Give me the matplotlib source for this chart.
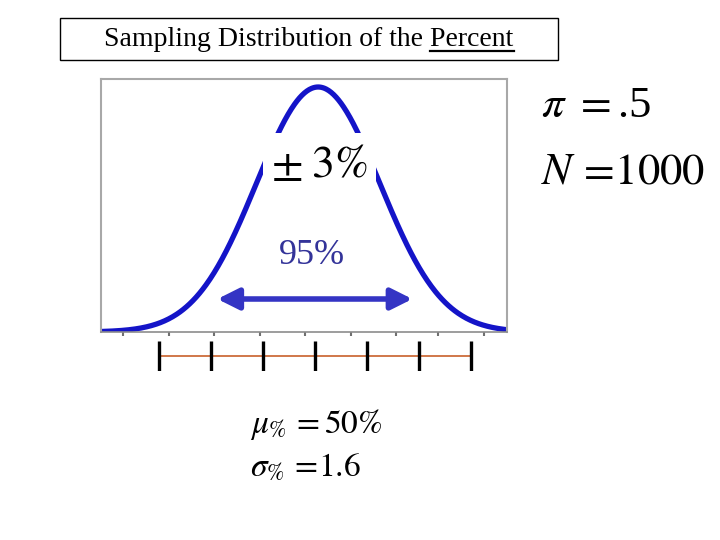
#%% IMPORTS               ~~~~~~~~~~~~~~~~~~~~~~~~~~~~~~~~~~~~~~~~~~~~
import matplotlib
matplotlib.use('Agg')
import matplotlib.pyplot as plt
import numpy as np
from matplotlib.patches import Rectangle
from matplotlib.lines import Line2D

plt.rcParams['mathtext.fontset'] = 'stix'
plt.rcParams['font.family'] = ['Liberation Serif', 'DejaVu Serif']

#%% DATA               ~~~~~~~~~~~~~~~~~~~~~~~~~~~~~~~~~~~~~~~~~~~~
title_text = 'Sampling Distribution of the '
title_word = 'Percent'
pi_value = '.5'
n_value = 1000
mu_pct = 50
sd_pct = 1.6
margin_pct = 3
coverage = '95%'

# curve as drawn on the slide (peak and spread)
curve_mean = 50.1
curve_sd = 1.9
x_range = (43.42, 55.91)

# leftover small ticks under the curve's baseline
axis_ticks = [44.1, 45.5, 46.9, 48.3, 49.7, 51.1, 52.5, 53.8, 55.2]

# ruler below: mean +/- 1, 2, 3 standard deviations
ruler_ticks = [mu_pct + k * sd_pct for k in range(-3, 4)]


#%% HELPERS               ~~~~~~~~~~~~~~~~~~~~~~~~~~~~~~~~~~~~~~~~~~~~
W, H = 720, 540

def fx(x):
    return x / W

def fy(y):
    return 1 - y / H


#%% FIGURE               ~~~~~~~~~~~~~~~~~~~~~~~~~~~~~~~~~~~~~~~~~~~~
fig = plt.figure(figsize=(7.2, 5.4), dpi=100)

# main curve box
ax = fig.add_axes([fx(101), fy(332), (507 - 101) / W, (332 - 79) / H])
x = np.linspace(x_range[0], x_range[1], 500)
y = np.exp(-0.5 * ((x - curve_mean) / curve_sd) ** 2) / (curve_sd * np.sqrt(2 * np.pi))
ax.plot(x, y, color='#1414c8', lw=3.8, solid_capstyle='butt', zorder=2)
ax.set_xlim(*x_range)
ax.set_ylim(0, y.max() * 253 / 245)

for side in ['left', 'top', 'right']:
    ax.spines[side].set_color('#a8a8a8')
    ax.spines[side].set_linewidth(1.5)
ax.spines['bottom'].set_color('#8c8c8c')
ax.spines['bottom'].set_linewidth(1.2)
ax.set_xticks(axis_ticks)
ax.set_xticklabels([])
ax.set_yticks([])
ax.tick_params(axis='x', length=3, width=1.5, color='#707070', direction='out')

trans = ax.get_xaxis_transform()

# white patch behind the margin label (cuts the curve)
ax.add_patch(Rectangle(((263 - 101) / 406, (332 - 182) / 253),
                       (376 - 263) / 406, (182 - 133) / 253,
                       transform=ax.transAxes, facecolor='white',
                       edgecolor='none', zorder=3))
ax.text(mu_pct + 0.15, (332 - 166) / 253, r'$\pm\;%d\%%$' % margin_pct,
        transform=trans, ha='center', va='center', fontsize=33,
        color='black', zorder=4)

# 95% arrow
ax.annotate('', xy=(mu_pct + margin_pct, (332 - 299) / 253),
            xytext=(mu_pct - margin_pct, (332 - 299) / 253),
            xycoords=trans, textcoords=trans,
            arrowprops=dict(arrowstyle='<|-|>,head_length=0.8,head_width=0.4',
                            mutation_scale=16, color='#3434c4', lw=4,
                            shrinkA=0, shrinkB=0))
ax.text(mu_pct - 0.1, (332 - 255) / 253, coverage, transform=trans,
        ha='center', va='center', fontsize=26, color='#333399')

# ruler below the box
rax = fig.add_axes([fx(101), fy(371), (507 - 101) / W, (371 - 341) / H], sharex=ax)
rax.axis('off')
rax.set_ylim(0, 1)
rax.hlines(0.5, ruler_ticks[0], ruler_ticks[-1], color='#c8602a', lw=1.2)
rax.vlines(ruler_ticks, 0, 1, color='black', lw=2.4)
rax.set_xlim(*x_range)

# title box
fig.patches.append(Rectangle((fx(60), fy(60)), (558 - 60) / W, (60 - 18) / H,
                             transform=fig.transFigure, fill=False,
                             edgecolor='black', lw=1))
t = fig.text(fx(309), fy(40), title_text + title_word, ha='center', va='center',
             fontsize=20)

# underline the last word
fig.canvas.draw()
r = fig.canvas.get_renderer()
bb = t.get_window_extent(r)
tmp = fig.text(0, 0, title_word, fontsize=20)
wbb = tmp.get_window_extent(r)
tmp.remove()
uy = bb.y0 + 2
fig.lines.append(Line2D([(bb.x1 - wbb.width) / W, bb.x1 / W], [uy / H, uy / H],
                        transform=fig.transFigure, color='black', lw=1.6))

# parameters on the right
fig.text(fx(541), fy(106), r'$\pi\ =$%s' % pi_value, ha='left', va='center',
         fontsize=32)
fig.text(fx(541), fy(172), r'$N\, =\! %d$' % n_value, ha='left', va='center',
         fontsize=32)

# mean and sd below
fig.text(fx(250), fy(424), r'$\mu_{\%%}\,= %d\%%$' % mu_pct, ha='left', va='center',
         fontsize=24)
fig.text(fx(250), fy(468), r'$\sigma_{\%%}\,=\!%s$' % sd_pct, ha='left', va='center',
         fontsize=24)

fig.savefig('out.png', dpi=100)
